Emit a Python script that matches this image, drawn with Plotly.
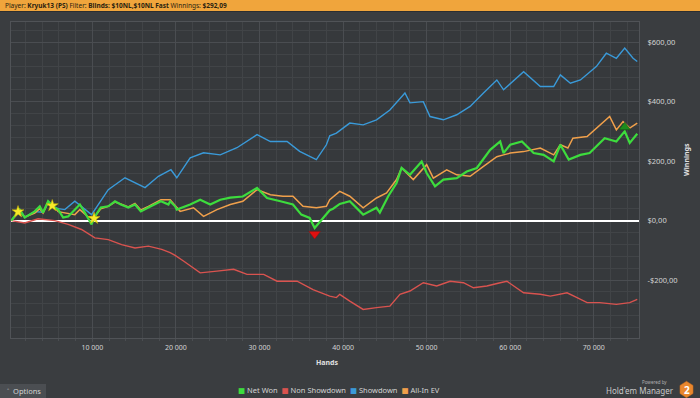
import numpy as np
import plotly.graph_objects as go

# ---------------- data ----------------
net_hands = [300,1300,1900,3100,3700,4100,4700,5300,5900,6500,7100,7900,8500,9100,9900,10300,11000,11900,12700,13400,
             14300,15100,15800,16700,17500,18200,19100,19300,19900,20100,21700,22900,24100,25300,26500,28000,29700,30900,32500,34000,
             35000,36000,36600,37600,38400,38800,39600,40800,42400,44000,44400,45400,46400,47000,48000,49400,50000,51000,52000,53600,
             54800,56000,57600,58800,59200,60000,61400,62800,64000,65200,66000,67000,68400,69500,70300,71300,72700,73700,74300,75200]
net_won = [0,37,10,31,48,27,65,47,37,10,14,37,54,27,-13,14,44,48,65,54,
           44,54,31,44,54,65,54,65,48,37,54,70,54,70,77,81,110,76,65,54,
           20,9,-25,9,35,40,56,65,20,43,27,82,126,177,154,199,160,115,138,143,
           165,177,238,266,227,255,266,227,221,199,255,205,221,227,249,277,266,300,261,292]

sd_hands = [300,1300,1900,3100,4100,4700,5300,5900,6700,7900,9900,11900,13900,16300,17900,19400,20100,21700,23300,25300,
            27300,29700,31300,33300,34800,36800,38000,38400,39200,40800,42400,44000,45600,47400,48000,49600,50400,52000,53600,55200,
            56800,57600,58400,59200,61600,63600,65200,66000,67200,68400,70300,71500,72700,73700,74700,75200]
showdown = [0,37,12,30,28,64,48,40,37,65,20,104,144,111,149,171,144,211,228,221,
            245,289,266,266,233,205,255,285,294,328,322,339,372,429,396,400,350,339,356,384,
            429,451,473,440,501,451,451,490,462,473,518,563,546,580,546,535]

nsd_hands = [300,1900,3500,5500,7100,8700,10300,11900,13500,15100,16700,18300,19300,19900,20900,22900,24900,26900,28500,30500,
             32100,34500,36400,38400,39200,39600,40800,42400,44000,45600,46800,48000,49600,51200,52800,54400,55600,57200,58800,59600,
             61600,63600,64800,66800,68000,69200,70700,72700,74300,75200]
non_showdown = [0,-8,6,0,-13,-30,-58,-64,-81,-92,-86,-97,-108,-117,-136,-176,-170,-164,-181,-181,
                -204,-204,-232,-254,-259,-248,-271,-299,-293,-288,-248,-237,-209,-220,-204,-209,-226,-220,-209,-204,
                -243,-248,-254,-243,-259,-276,-276,-282,-276,-265]

ev_hands = [300,1300,1900,3100,3700,4100,4700,5300,5900,6700,7900,8500,9500,10300,11000,11900,12700,13400,14300,15100,
            15800,16700,17500,18200,19300,20500,22100,23300,24900,26500,28000,29700,31300,32800,34000,35200,36800,38000,38400,38800,
            39600,40800,42400,44000,45200,46400,47000,48400,50000,50800,52400,53600,55200,56800,57600,58400,59200,60000,61600,62800,
            63600,65200,66000,66900,67500,69200,70300,71900,72700,73500,74300,75200]
allin_ev = [0,30,12,25,40,25,60,50,30,26,20,37,12,14,40,48,62,56,46,58,
            36,48,60,70,70,31,43,14,37,54,65,104,87,82,82,48,43,48,70,80,
            98,82,43,76,93,138,177,138,188,143,171,154,149,182,199,215,221,227,232,238,
            244,221,255,244,277,283,311,350,305,333,311,328]

star_hands = [1100, 5200, 10200]

x_tick_vals = [10000, 20000, 30000, 40000, 50000, 60000, 70000]
x_tick_text = ["10 000", "20 000", "30 000", "40 000", "50 000", "60 000", "70 000"]
y_tick_vals = [-200, 0, 200, 400, 600]
y_tick_text = ["-$200,00", "$0,00", "$200,00", "$400,00", "$600,00"]

series_names = ["Net Won", "Non Showdown", "Showdown", "All-In EV"]
series_colors = ["#3ddc3d", "#d9534f", "#3a9ad9", "#f0a04b"]

header_text = ("Player: <b>Kryuk13 (PS)</b> Filter: <b>Blinds: $10NL,$10NL Fast</b> "
               "Winnings: <b>$292,09</b>")

# ---------------- layout helpers (pixel -> paper) ----------------
W_PX, H_PX = 700, 398
L, R, T, B = 11, 639, 22, 338
def px2x(p):
    return (p - L) / (R - L)
def px2y(p):
    return (B - p) / (B - T)

FONT = "Noto Sans, DejaVu Sans, sans-serif"
TXT = "#d4d4d4"

fig = go.Figure()
fig.add_trace(go.Scatter(x=nsd_hands, y=non_showdown, mode="lines", name=series_names[1],
                         line=dict(color=series_colors[1], width=1.4), showlegend=False))
fig.add_trace(go.Scatter(x=sd_hands, y=showdown, mode="lines", name=series_names[2],
                         line=dict(color=series_colors[2], width=1.4), showlegend=False))
fig.add_trace(go.Scatter(x=ev_hands, y=allin_ev, mode="lines", name=series_names[3],
                         line=dict(color=series_colors[3], width=1.5), showlegend=False))
fig.add_trace(go.Scatter(x=net_hands, y=net_won, mode="lines", name=series_names[0],
                         line=dict(color=series_colors[0], width=2.2), showlegend=False))

# milestone markers derived from the Net Won series
star_vals = np.interp(star_hands, net_hands, net_won)
fig.add_trace(go.Scatter(x=star_hands, y=star_vals, mode="markers", showlegend=False,
                         marker=dict(symbol="star", size=9, color="#f7ea2a",
                                     line=dict(color="#c8b400", width=0.5))))
i_min = int(np.argmin(net_won))
i_max = int(np.argmax(net_won))
fig.add_trace(go.Scatter(x=[net_hands[i_min]], y=[net_won[i_min] - 20], mode="markers", showlegend=False,
                         marker=dict(symbol="triangle-down", size=10, color="#e01010",
                                     line=dict(color="#901010", width=0.5))))
fig.add_trace(go.Scatter(x=[net_hands[i_max]], y=[net_won[i_max] + 14], mode="markers", showlegend=False,
                         marker=dict(symbol="triangle-up", size=10, color="#1c8c1c",
                                     line=dict(color="#105010", width=0.5))))

shapes = []
# header bar
shapes.append(dict(type="rect", xref="paper", yref="paper", layer="above",
                   x0=px2x(0), x1=px2x(W_PX), y0=px2y(11), y1=px2y(0),
                   fillcolor="#f0a53c", line=dict(width=0)))
shapes.append(dict(type="line", xref="paper", yref="paper",
                   x0=px2x(0), x1=px2x(W_PX), y0=px2y(11.5), y1=px2y(11.5),
                   line=dict(color="#2c2e30", width=1)))
# options button
shapes.append(dict(type="rect", xref="paper", yref="paper",
                   x0=px2x(0), x1=px2x(46), y0=px2y(398), y1=px2y(384),
                   fillcolor="#4b4e52", line=dict(width=0)))
# HM2 hexagon
cx, cy, rad = 686.5, 389.5, 8.2
ang = np.deg2rad([90, 30, -30, -90, -150, 150])
pts = [(px2x(cx + rad * np.cos(a) * 0.92), px2y(cy - rad * np.sin(a))) for a in ang]
path = "M " + " L ".join(f"{x:.5f},{y:.5f}" for x, y in pts) + " Z"
shapes.append(dict(type="path", xref="paper", yref="paper", path=path,
                   fillcolor="#e8872e", line=dict(color="#c96a1a", width=0.5)))

legend_html = "&nbsp;&nbsp;".join(
    f"<span style='color:{c}'>■</span> {n}" for n, c in zip(series_names, series_colors))

annotations = [
    dict(text=header_text, x=px2x(3), y=px2y(5.6), xref="paper", yref="paper",
         xanchor="left", yanchor="middle", showarrow=False,
         font=dict(family=FONT, size=6.5, color="#2a2210")),
    dict(text=legend_html, x=px2x(339), y=px2y(390), xref="paper", yref="paper",
         xanchor="center", yanchor="middle", showarrow=False,
         font=dict(family=FONT, size=7.5, color=TXT)),
    dict(text="˄&nbsp;&nbsp;Options", x=px2x(5), y=px2y(391), xref="paper", yref="paper",
         xanchor="left", yanchor="middle", showarrow=False,
         font=dict(family=FONT, size=7.5, color=TXT)),
    dict(text="Powered by", x=px2x(669), y=px2y(381.5), xref="paper", yref="paper",
         xanchor="right", yanchor="middle", showarrow=False,
         font=dict(family=FONT, size=4.5, color="#b0b0b0")),
    dict(text="Hold'em Manager", x=px2x(676), y=px2y(390.5), xref="paper", yref="paper",
         xanchor="right", yanchor="middle", showarrow=False,
         font=dict(family=FONT, size=8, color="#c8c8c8")),
    dict(text="<b>2</b>", x=px2x(cx), y=px2y(cy), xref="paper", yref="paper",
         xanchor="center", yanchor="middle", showarrow=False,
         font=dict(family=FONT, size=10, color="#ffffff")),
    dict(text="<b>Hands</b>", x=px2x(327), y=px2y(362), xref="paper", yref="paper",
         xanchor="center", yanchor="middle", showarrow=False,
         font=dict(family=FONT, size=7, color="#e0e0e0")),
    dict(text="<b>Winnings</b>", x=px2x(686), y=px2y(160), xref="paper", yref="paper",
         xanchor="center", yanchor="middle", showarrow=False, textangle=-90,
         font=dict(family=FONT, size=7, color="#e0e0e0")),
]

GRID = "#4a4d51"
MINOR = "#414447"
fig.update_layout(
    width=W_PX, height=H_PX,
    margin=dict(l=L, r=W_PX - R, t=T, b=H_PX - B, autoexpand=False),
    paper_bgcolor="#3a3d40", plot_bgcolor="#36393c",
    font=dict(family=FONT, size=7, color=TXT),
    showlegend=False,
    shapes=shapes, annotations=annotations,
    xaxis=dict(range=[260, 75410], tickmode="array", tickvals=x_tick_vals, ticktext=x_tick_text,
               automargin=False,
               showgrid=True, gridcolor=GRID, gridwidth=1, zeroline=False,
               showline=True, linecolor="#505357", mirror=True,
               ticks="outside", ticklen=3, tickcolor=GRID,
               minor=dict(tickmode="linear", tick0=0, dtick=2000, showgrid=True,
                          gridcolor=MINOR, ticks="outside", ticklen=2, tickcolor=GRID),
               tickfont=dict(size=7, color=TXT)),
    yaxis=dict(range=[-395, 668], side="right", tickmode="array", tickvals=y_tick_vals, ticktext=y_tick_text,
               automargin=False,
               showgrid=True, gridcolor=GRID, gridwidth=1,
               zeroline=True, zerolinecolor="#ffffff", zerolinewidth=2,
               showline=True, linecolor="#505357", mirror=True,
               ticks="", ticklabelstandoff=6,
               minor=dict(tickmode="linear", tick0=0, dtick=40, showgrid=True, gridcolor=MINOR),
               tickfont=dict(size=7.5, color=TXT)),
)

fig.write_html("out.html", config={"displayModeBar": False},
               post_script="document.body.style.margin='0px';document.body.style.overflow='hidden';")
